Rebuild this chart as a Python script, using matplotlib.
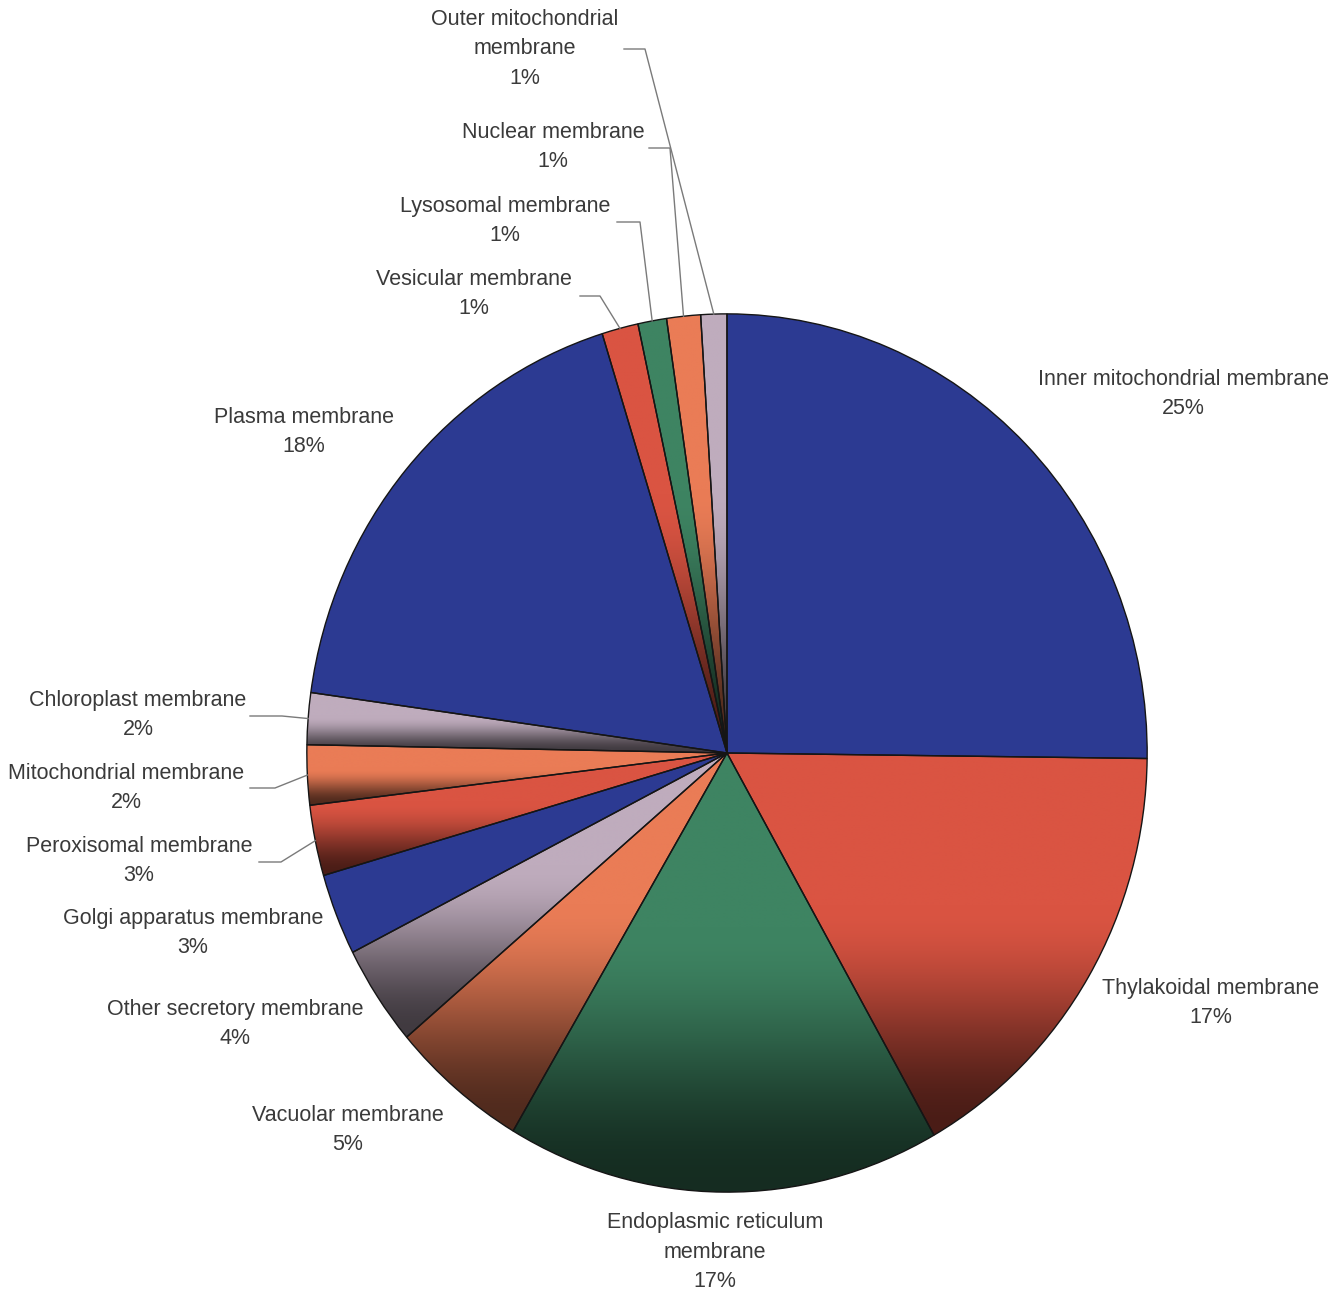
import numpy as np
import matplotlib
matplotlib.use('Agg')
import matplotlib.pyplot as plt
from matplotlib.colors import to_rgb
from matplotlib.lines import Line2D

# membrane classes, clockwise from 12 o'clock
names = ['Inner mitochondrial membrane', 'Thylakoidal membrane',
         'Endoplasmic reticulum\nmembrane', 'Vacuolar membrane',
         'Other secretory membrane', 'Golgi apparatus membrane',
         'Peroxisomal membrane', 'Mitochondrial membrane',
         'Chloroplast membrane', 'Plasma membrane', 'Vesicular membrane',
         'Lysosomal membrane', 'Nuclear membrane',
         'Outer mitochondrial\nmembrane']
shares = [25.2, 16.6, 16.7, 5.3, 3.7, 3.0, 2.6, 2.2, 1.9, 18.0, 1.4, 1.1, 1.3, 1.0]

BLUE, RED, GREEN, ORANGE, MAUVE = '#2c3a92', '#da5442', '#3e8462', '#ea7c56', '#bfacbd'
slice_colors = [BLUE, RED, GREEN, ORANGE, MAUVE, BLUE, RED, ORANGE, MAUVE,
                BLUE, RED, GREEN, ORANGE, MAUVE]

# label centres in pixels (x, y from top)
label_pos = [(1183, 394), (1211, 1003), (715, 1252), (348, 1130), (235, 1024),
             (193, 933), (139, 861), (126, 788), (138, 715), (304, 432),
             (474, 294), (505, 221), (553, 147), (525, 49)]
# leader lines: label end point, elbow point (pixels)
leaders = {6: [(259, 862), (281, 862)],
           7: [(250, 788), (275, 788)],
           8: [(250, 716), (282, 716)],
           10: [(580, 296), (600, 296)],
           11: [(617, 222), (640, 222)],
           12: [(649, 148), (670, 148)],
           13: [(624, 49), (645, 49)]}

W, H = 1335, 1293
cx, cy, rx, ry = 727, 753, 421, 440

fig = plt.figure(figsize=(W / 100, H / 100), dpi=100)
ax = fig.add_axes([(cx - rx) / W, (H - cy - ry) / H, 2 * rx / W, 2 * ry / H])

wedges, _ = ax.pie(shares, colors=slice_colors, startangle=90, counterclock=False,
                   radius=1.0, wedgeprops=dict(edgecolor='#151515', linewidth=1.0))


def shade(t):
    s = np.clip((t - 0.4) / 0.58, 0, 1)
    s = s * s * (3 - 2 * s)
    return 1 - 0.66 * s


t = np.linspace(0, 1, 300)
for w, c in zip(wedges, slice_colors):
    if c == BLUE:
        continue
    bb = w.get_path().get_extents()
    img = np.array(to_rgb(c))[None, :] * shade(t)[:, None]
    im = ax.imshow(img[:, None, :], extent=(bb.x0, bb.x1, bb.y0, bb.y1),
                   origin='upper', aspect='auto', interpolation='bilinear',
                   zorder=0.5)
    im.set_clip_path(w)
    w.set_facecolor('none')
    w.set_zorder(2)

ax.set_aspect('auto')
ax.set_xlim(-1.002, 1.002)
ax.set_ylim(-1.002, 1.002)
ax.axis('off')

total = sum(shares)
for i, (name, v) in enumerate(zip(names, shares)):
    x, y = label_pos[i]
    fig.text(x / W, 1 - y / H, '%s\n%d%%' % (name, round(v / total * 100)),
             ha='center', va='center', fontsize=15.5, family='Liberation Sans',
             color='#3a3a3a', linespacing=1.56)

fig.canvas.draw()
for i, pts in leaders.items():
    w = wedges[i]
    th = np.deg2rad((w.theta1 + w.theta2) / 2)
    ax_pt = ax.transData.transform((np.cos(th), np.sin(th)))
    xs = [p[0] / W for p in pts] + [ax_pt[0] / fig.bbox.width]
    ys = [1 - p[1] / H for p in pts] + [ax_pt[1] / fig.bbox.height]
    fig.add_artist(Line2D(xs, ys, transform=fig.transFigure, color='#7a7a7a', lw=1.0))

fig.savefig('out.png', dpi=100, facecolor='white')
